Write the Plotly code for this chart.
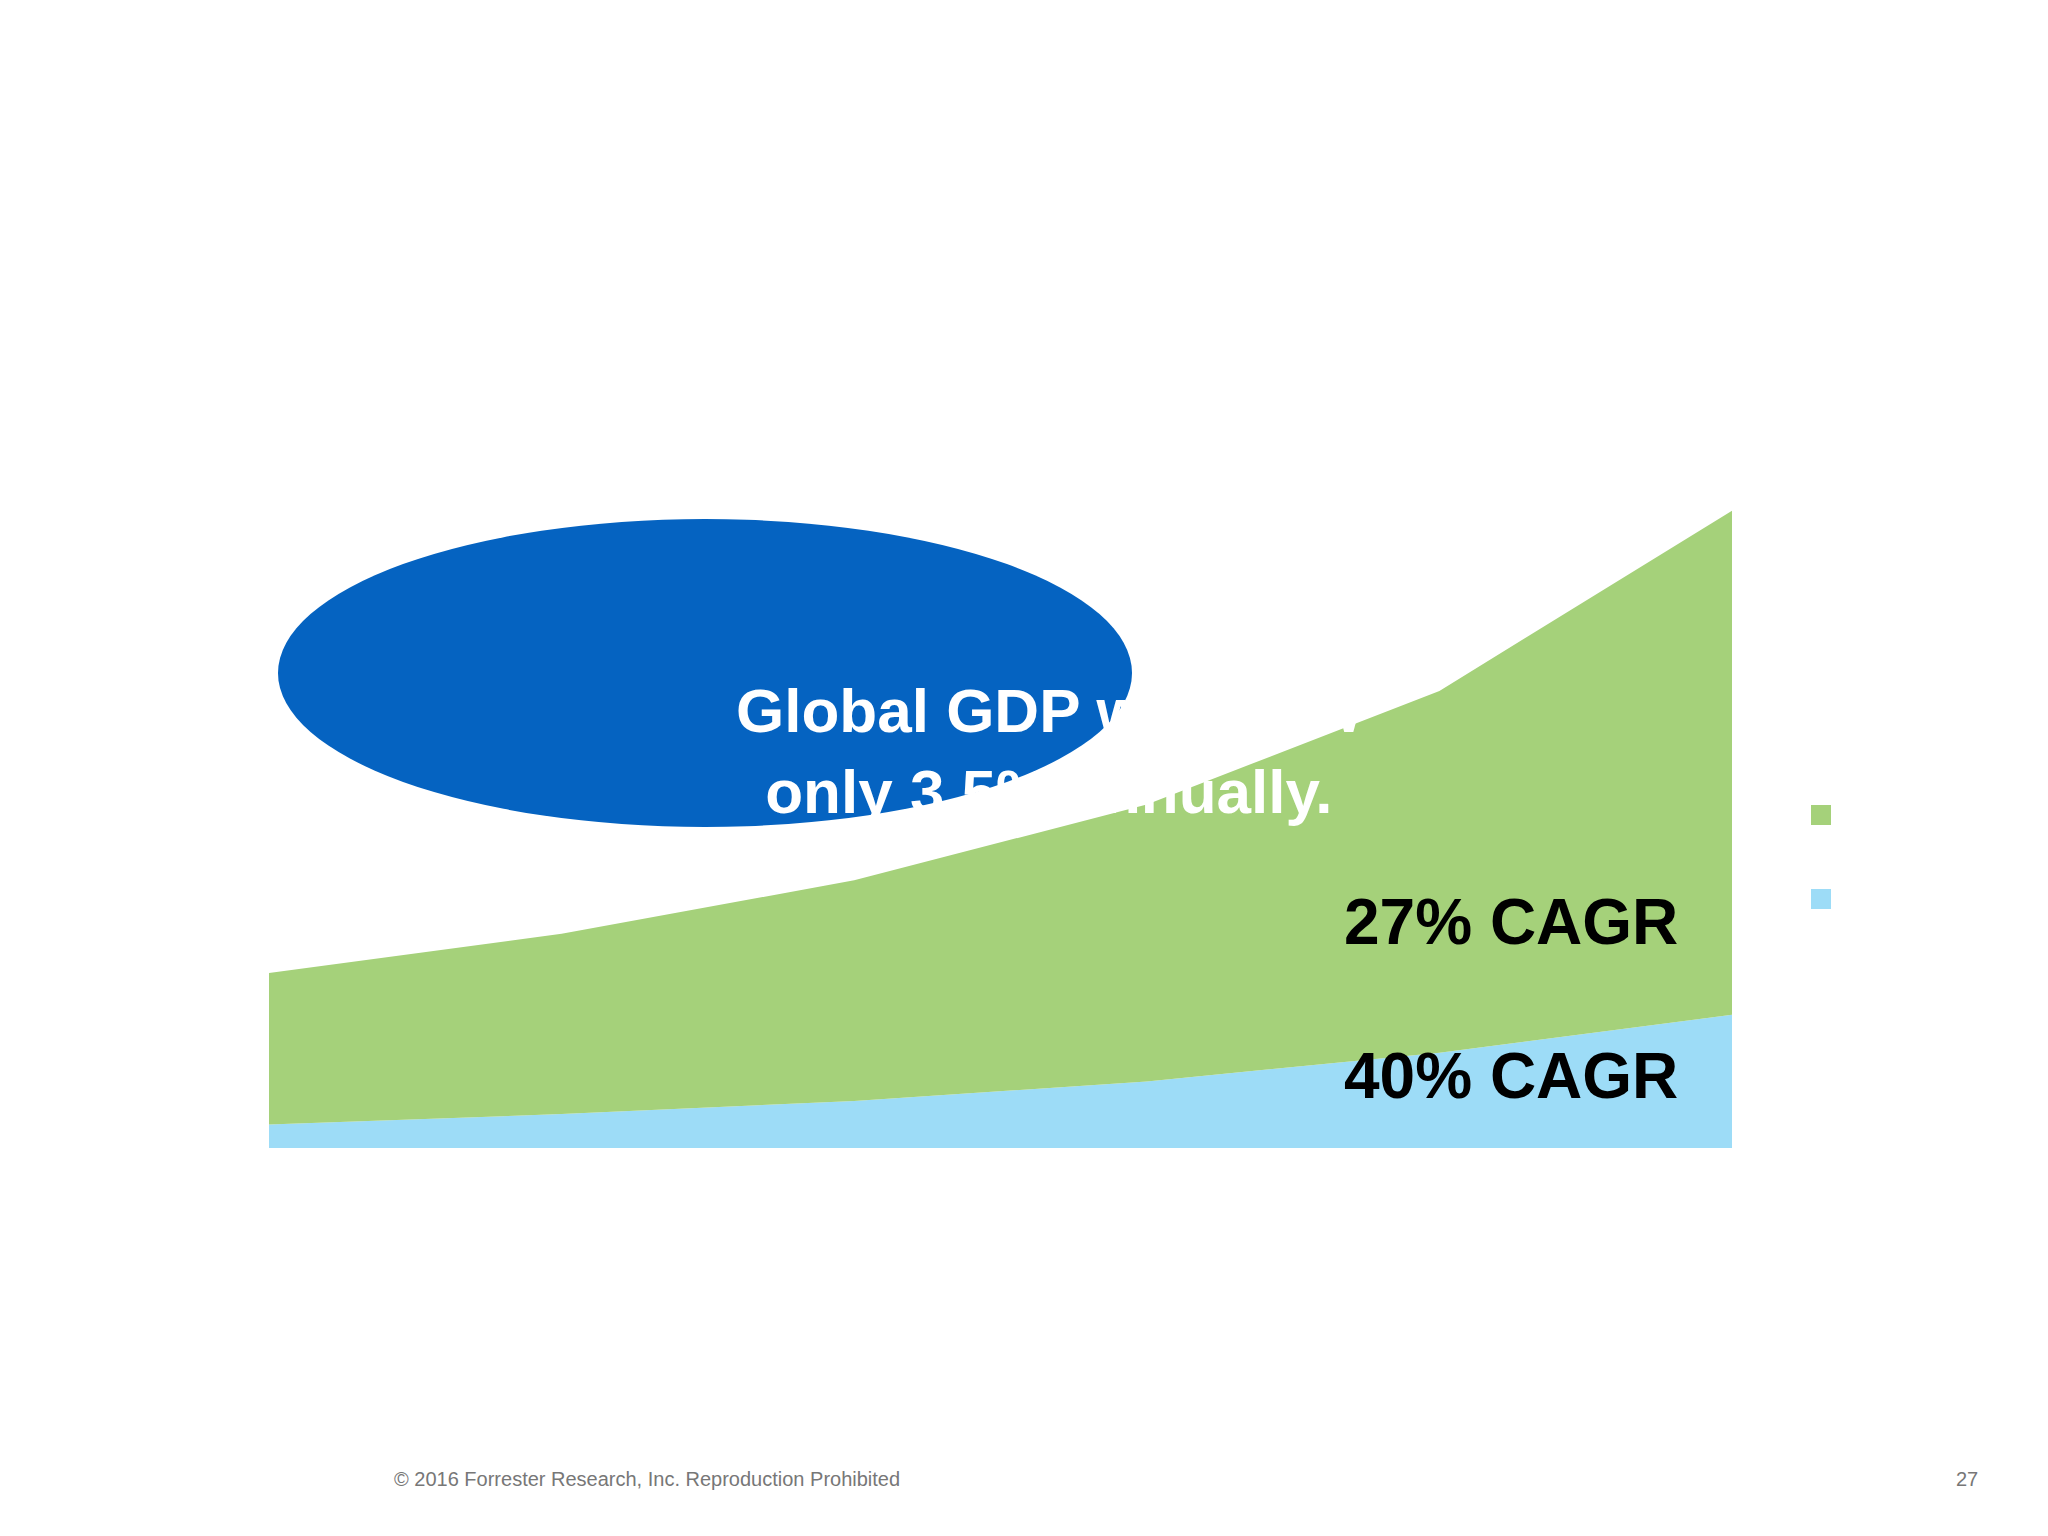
import plotly.graph_objects as go

years = [2015, 2016, 2017, 2018, 2019, 2020]
blue_vals = [18, 26, 36, 51, 73, 102]
green_vals = [116, 138, 169, 212, 277, 386]
labels = ["27% CAGR", "40% CAGR"]

W, H = 2048, 1536
L, R, T, B = 261, 324, 487, 396
pw, ph = W - L - R, H - T - B
def px(x): return (x - L) / pw
def py(y): return (H - B - y) / ph

fig = go.Figure()
fig.add_trace(go.Scatter(x=years, y=blue_vals, stackgroup="s", mode="none",
                         fillcolor="#9DDCF7", name="blue"))
fig.add_trace(go.Scatter(x=years, y=green_vals, stackgroup="s", mode="none",
                         fillcolor="#A5D17A", name="green"))

shapes = [
    dict(type="circle", xref="paper", yref="paper", x0=px(270), x1=px(1124),
         y0=py(819), y1=py(511), fillcolor="#0563C1", line=dict(width=0), layer="above"),
    dict(type="rect", xref="paper", yref="paper", x0=px(1803), x1=px(1823),
         y0=py(817), y1=py(797), fillcolor="#A5D17A", line=dict(width=0)),
    dict(type="rect", xref="paper", yref="paper", x0=px(1803), x1=px(1823),
         y0=py(901), y1=py(881), fillcolor="#9DDCF7", line=dict(width=0)),
]
ann = [
    dict(x=px(726), y=py(666), xref="paper", yref="paper", showarrow=False,
         text="<b>Global GDP will grow<br>only 3.5% annually.</b>",
         font=dict(size=62, color="white", family="Liberation Sans")),
    dict(x=px(1672), y=py(914), xref="paper", yref="paper", showarrow=False, xanchor="right",
         text="<b>" + labels[0] + "</b>", font=dict(size=64, color="black", family="Liberation Sans")),
    dict(x=px(1672), y=py(1106), xref="paper", yref="paper", showarrow=False, xanchor="right",
         text="<b>" + labels[1] + "</b>", font=dict(size=64, color="black", family="Liberation Sans")),
    dict(x=px(384), y=py(1484), xref="paper", yref="paper", showarrow=False, xanchor="left",
         text="© 2016 Forrester Research, Inc. Reproduction Prohibited",
         font=dict(size=20, color="#777777", family="Liberation Sans")),
    dict(x=px(1972), y=py(1484), xref="paper", yref="paper", showarrow=False, xanchor="right",
         text="27", font=dict(size=20, color="#777777", family="Liberation Sans")),
]
fig.update_layout(width=W, height=H, margin=dict(l=L, r=R, t=T, b=B),
                  paper_bgcolor="white", plot_bgcolor="white", showlegend=False,
                  shapes=shapes, annotations=ann,
                  xaxis=dict(range=[2015, 2020], visible=False),
                  yaxis=dict(range=[0, 500], visible=False))
fig.write_html("out.html")
